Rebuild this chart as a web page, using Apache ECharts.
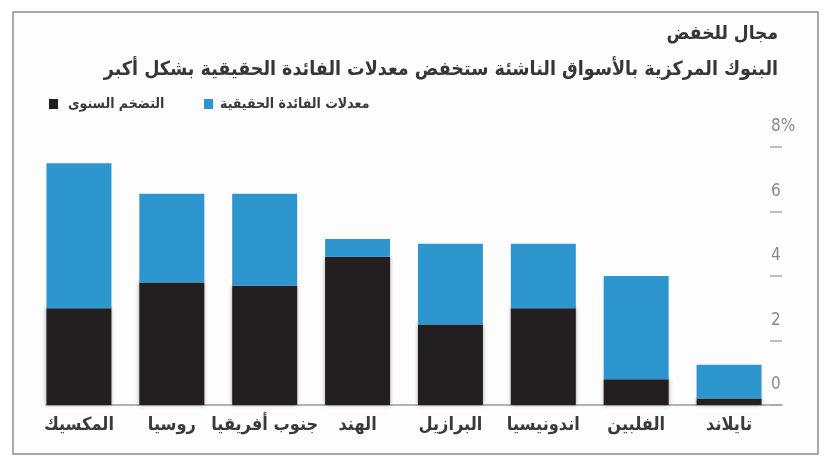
<!DOCTYPE html>
<html>
<head>
<meta charset="utf-8">
<script src="https://cdn.jsdelivr.net/npm/echarts@6/dist/echarts.min.js"></script>
<style>
html,body{margin:0;padding:0;background:#fff;}
#c{width:832px;height:463px;}
</style>
</head>
<body>
<div id="c"></div>
<script>
var categories = ['المكسيك', 'روسيا', 'جنوب أفريقيا', 'الهند', 'البرازيل', 'اندونيسيا', 'الفلبين', 'تايلاند'];
var inflation = [3.0, 3.8, 3.7, 4.6, 2.5, 3.0, 0.8, 0.2];
var realRate = [4.5, 2.75, 2.85, 0.55, 2.5, 2.0, 3.2, 1.05];
var yTicks = [0, 2, 4, 6, 8];
var titleText = 'مجال للخفض';
var subtitleText = 'البنوك المركزية بالأسواق الناشئة ستخفض معدلات الفائدة الحقيقية بشكل أكبر';
var nameInflation = 'التضخم السنوى';
var nameReal = 'معدلات الفائدة الحقيقية';

var FONT = "'DejaVu Sans Condensed', 'DejaVu Sans', sans-serif";
var chart = echarts.init(document.getElementById('c'), null, {renderer: 'canvas'});
chart.setOption({
  backgroundColor: '#ffffff',
  animation: false,
  textStyle: {fontFamily: FONT},
  graphic: [{
    type: 'rect', shape: {x: 13, y: 12, width: 805, height: 442},
    style: {fill: '#fdfdfd', stroke: '#8c8c8c', lineWidth: 1.5}, z: -10
  }],
  title: [{
    text: titleText, right: 54, top: 25, padding: 0,
    textStyle: {fontFamily: FONT, fontWeight: 'bold', fontSize: 19, color: '#363636'}
  }, {
    text: subtitleText, right: 54, top: 60, padding: 0,
    textStyle: {fontFamily: FONT, fontWeight: 'bold', fontSize: 19.5, color: '#363636'}
  }],
  legend: [{
    data: [nameInflation], left: 49, top: 97, padding: 0, align: 'left',
    itemWidth: 9, itemHeight: 10, icon: 'rect',
    textStyle: {fontFamily: FONT, fontWeight: 'bold', fontSize: 14, color: '#3a3a3a', padding: [0, 0, 0, 5]}
  }, {
    data: [nameReal], left: 204, top: 97, padding: 0, align: 'left',
    itemWidth: 9, itemHeight: 10, icon: 'rect',
    textStyle: {fontFamily: FONT, fontWeight: 'bold', fontSize: 14, color: '#3a3a3a', padding: [0, 0, 0, 2]}
  }],
  grid: [
    {left: 32.5, right: 56.5, top: 147, bottom: 58},
    {left: 46, right: 50, top: 147, bottom: 58}
  ],
  xAxis: [{
    gridIndex: 0, type: 'category', data: categories,
    axisLine: {show: false}, axisTick: {show: false},
    axisLabel: {margin: 11, fontFamily: FONT, fontWeight: 'bold', fontSize: 18, color: '#3a3a3a', interval: 0}
  }, {
    gridIndex: 1, type: 'value', min: 0, max: 1,
    axisLine: {show: true, onZero: false, lineStyle: {color: '#9a9a9a', width: 1.5}},
    axisTick: {show: false}, axisLabel: {show: false}, splitLine: {show: false}
  }],
  yAxis: [{
    gridIndex: 0, type: 'value', min: 0, max: 8, interval: 2, show: false
  }, {
    gridIndex: 1, type: 'value', position: 'right', min: 0, max: 8, interval: 2,
    axisLine: {show: false, onZero: false},
    axisTick: {show: true, inside: true, length: 12, lineStyle: {color: '#a8a8a8', width: 1.5}},
    splitLine: {show: false},
    axisLabel: {
      margin: -11, align: 'left', verticalAlign: 'bottom', lineHeight: 40,
      fontFamily: FONT, fontSize: 17, color: '#8a8a8a',
      formatter: function (v) { return v === yTicks[yTicks.length - 1] ? v + '%' : String(v); }
    }
  }],
  series: [{
    name: nameInflation, type: 'bar', stack: 'a', xAxisIndex: 0, yAxisIndex: 0,
    data: inflation, barWidth: 65,
    itemStyle: {color: '#231f20', shadowBlur: 4, shadowColor: 'rgba(0,0,0,0.35)'}
  }, {
    name: nameReal, type: 'bar', stack: 'a', xAxisIndex: 0, yAxisIndex: 0,
    data: realRate, barWidth: 65,
    itemStyle: {color: '#2e96cf'}
  }]
});
</script>
</body>
</html>
